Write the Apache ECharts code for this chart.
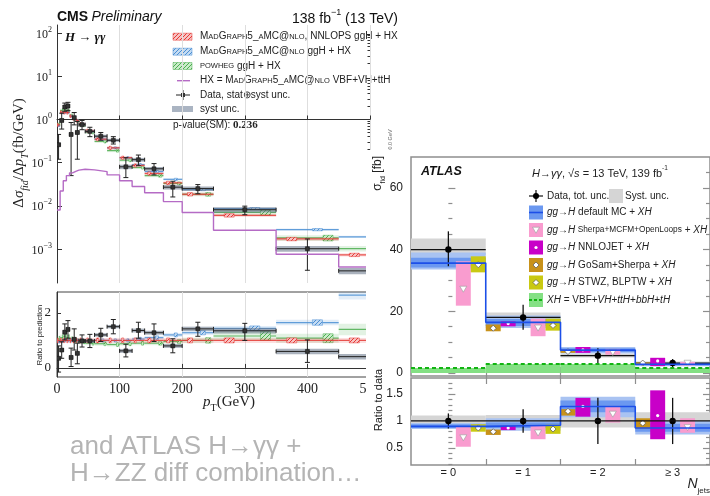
<!DOCTYPE html>
<html>
<head>
<meta charset="utf-8">
<title>Higgs differential cross sections</title>
<script src="https://cdn.jsdelivr.net/npm/echarts@6/dist/echarts.min.js"></script>
<style>
  html, body { margin: 0; padding: 0; background: #fff; }
  #cms { position: absolute; left: 0; top: 0; width: 710px; height: 496px; }
  #atlas { position: absolute; left: 366px; top: 150px; width: 344px; height: 346px; background: #fff; }
</style>
</head>
<body>
<div id="cms"></div>
<div id="atlas"></div>
<script>
// ===================== CMS: H -> gamma gamma, pT(H) =====================
const ptEdges = [0, 5, 10, 15, 20, 25, 30, 35, 45, 60, 80, 100, 120, 140, 170, 200, 250, 350, 450, 550];

// measured dsigma/dpT (fb/GeV) with total uncertainty and relative syst.
const dataXs   = [0.26, 0.95, 1.95, 2.05, 0.45, 1.10, 0.50, 0.76, 0.53, 0.41, 0.33, 0.080, 0.117, 0.072, 0.027, 0.025, 0.0081, 0.00101, 0.00031];
const dataLo   = [0.12, 0.60, 1.55, 1.60, 0.05, 0.75, 0.12, 0.58, 0.40, 0.33, 0.27, 0.045, 0.085, 0.052, 0.016, 0.019, 0.0062, 0.00032, 0.00012];
const dataHi   = [0.45, 1.40, 2.40, 2.50, 0.85, 1.45, 0.90, 0.95, 0.66, 0.50, 0.40, 0.130, 0.150, 0.095, 0.037, 0.031, 0.0098, 0.0017, 0.0005];
const dataSyst = [0.08, 0.08, 0.07, 0.07, 0.10, 0.08, 0.10, 0.08, 0.08, 0.08, 0.08, 0.12, 0.10, 0.10, 0.12, 0.12, 0.14, 0.15, 0.16];

// theory predictions (ggH + HX) and HX alone
const nnlopsXs = [0.75, 1.47, 1.45, 1.45, 1.20, 1.05, 0.95, 0.78, 0.55, 0.35, 0.22, 0.130, 0.086, 0.056, 0.034, 0.0185, 0.0060, 0.00170, 0.00073];
const mgXs     = [0.71, 1.43, 1.45, 1.45, 1.20, 1.05, 0.95, 0.78, 0.54, 0.35, 0.22, 0.130, 0.090, 0.062, 0.041, 0.0237, 0.0086, 0.0028, 0.0019];
const powhegXs = [0.79, 1.62, 1.67, 1.60, 1.26, 1.05, 0.93, 0.74, 0.50, 0.31, 0.19, 0.114, 0.077, 0.050, 0.033, 0.0185, 0.0070, 0.0018, 0.00102];
const hxXs     = [0.008, 0.022, 0.038, 0.050, 0.058, 0.063, 0.067, 0.070, 0.068, 0.062, 0.052, 0.038, 0.028, 0.020, 0.0125, 0.0070, 0.0027, 0.00075, 0.00038];
const nnlopsUnc = [0.09, 0.09, 0.09, 0.09, 0.09, 0.09, 0.09, 0.09, 0.09, 0.09, 0.09, 0.09, 0.09, 0.09, 0.09, 0.09, 0.09, 0.09, 0.09];
const mgUnc     = [0.06, 0.06, 0.06, 0.06, 0.06, 0.06, 0.06, 0.06, 0.06, 0.06, 0.06, 0.06, 0.06, 0.06, 0.06, 0.06, 0.06, 0.06, 0.06];
const powhegUnc = [0.10, 0.10, 0.10, 0.10, 0.08, 0.08, 0.08, 0.08, 0.08, 0.08, 0.08, 0.08, 0.08, 0.08, 0.08, 0.10, 0.14, 0.15, 0.15];

// ratio to the NNLOPS prediction
const ratioData = [0.35, 0.65, 1.30, 1.40, 0.38, 1.04, 0.53, 0.98, 0.98, 1.20, 1.50, 0.62, 1.36, 1.28, 0.80, 1.42, 1.35, 0.60, 0.41];
const ratioLo   = [-0.15, 0.35, 1.02, 1.08, 0.05, 0.65, 0.15, 0.76, 0.74, 0.96, 1.24, 0.40, 1.08, 0.96, 0.55, 1.15, 1.00, 0.20, 0.10];
const ratioHi   = [0.80, 0.95, 1.60, 1.72, 0.72, 1.42, 0.90, 1.20, 1.22, 1.44, 1.76, 0.86, 1.66, 1.60, 1.06, 1.66, 1.62, 1.02, 0.75];
const ratioSyst = [0.05, 0.05, 0.05, 0.05, 0.05, 0.05, 0.05, 0.06, 0.06, 0.06, 0.06, 0.07, 0.07, 0.07, 0.07, 0.08, 0.10, 0.10, 0.10];
const nnlopsRatio = [1, 1, 1, 1, 1, 1, 1, 1, 1, 1, 1, 1, 1, 1, 1, 1, 1, 1, 1];
const mgRatio     = [0.95, 0.97, 1.00, 1.00, 1.00, 1.00, 1.00, 1.00, 0.98, 1.00, 1.00, 1.00, 1.05, 1.10, 1.20, 1.28, 1.44, 1.65, 2.65];
const powhegRatio = [1.05, 1.10, 1.15, 1.10, 1.05, 1.00, 0.98, 0.95, 0.90, 0.88, 0.85, 0.88, 0.90, 0.90, 0.96, 1.00, 1.16, 1.08, 1.40];

const logTicks = [-3, -2, -1, 0, 1, 2];

// ===================== ATLAS: H -> gamma gamma, N_jets =====================
const njetLabels = ['= 0', '= 1', '= 2', '≥ 3'];
const atlasData   = [40.0, 18.0, 5.6, 3.2];
const atlasDataLo = [34.6, 14.0, 3.2, 1.9];
const atlasDataHi = [45.9, 22.1, 8.0, 4.5];
const atlasSystLo = [38.2, 16.4, 5.0, 2.7];
const atlasSystHi = [43.6, 19.6, 6.2, 3.7];
const defaultMc       = [35.6, 16.4, 7.4, 2.8];
const defaultMcLo     = [34.2, 15.2, 6.8, 2.4];
const defaultMcHi     = [37.3, 17.5, 8.0, 3.2];
const defaultMcLoWide = [33.5, 14.6, 6.3, 2.2];
const defaultMcHiWide = [39.0, 18.6, 8.4, 3.4];
const sherpaXs = [27.2, 14.6, 6.7, 3.2];
const sherpaLo = [21.8, 11.9, 5.9, 2.4];
const sherpaHi = [36.2, 17.6, 7.8, 3.6];
const nnlojetXs = [null, 16.0, 7.5, 3.9];
const nnlojetLo = [null, 15.1, 6.5, 2.2];
const nnlojetHi = [null, 16.7, 8.4, 4.9];
const gosamXs = [null, 14.5, 6.9, 3.2];
const gosamLo = [null, 13.5, 6.5, 2.7];
const gosamHi = [null, 15.7, 7.5, 3.4];
const stwzXs = [35.1, 15.4, null, null];
const stwzLo = [32.6, 13.7, null, null];
const stwzHi = [37.8, 17.6, null, null];
const xhXs = [1.6, 2.9, 2.9, 1.6];

// ratio to data
const atlasRatioLo = [0.86, 0.78, 0.57, 0.57];
const atlasRatioHi = [1.14, 1.22, 1.43, 1.43];
const atlasRatioSystLo = [0.89, 0.89, 0.88, 0.84];
const atlasRatioSystHi = [1.10, 1.11, 1.12, 1.16];
const defaultMcRatio       = [0.90, 0.92, 1.27, 0.87];
const defaultMcRatioLo     = [0.87, 0.87, 1.16, 0.80];
const defaultMcRatioHi     = [0.94, 0.97, 1.38, 0.95];
const defaultMcRatioLoWide = [0.85, 0.82, 1.07, 0.75];
const defaultMcRatioHiWide = [0.96, 1.05, 1.45, 1.00];
const sherpaRatio   = [0.69, 0.78, 1.13, 0.88];
const sherpaRatioLo = [0.52, 0.66, 0.97, 0.78];
const sherpaRatioHi = [0.89, 0.92, 1.28, 1.05];
const nnlojetRatio   = [null, 0.87, 1.27, 1.10];
const nnlojetRatioLo = [null, 0.83, 1.08, 0.66];
const nnlojetRatioHi = [null, 0.91, 1.43, 1.57];
const gosamRatio   = [null, 0.80, 1.18, 0.96];
const gosamRatioLo = [null, 0.74, 1.10, 0.86];
const gosamRatioHi = [null, 0.84, 1.22, 1.05];
const stwzRatio   = [0.87, 0.85, null, null];
const stwzRatioLo = [0.80, 0.76, null, null];
const stwzRatioHi = [0.94, 0.93, null, null];
const unitRatio = [1, 1, 1, 1];

// ---------------------------------------------------------------------
const SERIF = "'Liberation Serif', 'DejaVu Serif', serif";
const SANS = "'Liberation Sans', Arial, sans-serif";

function hatch(fg, bg) {
  const c = document.createElement('canvas');
  c.width = 4; c.height = 4;
  const g = c.getContext('2d');
  g.fillStyle = bg; g.fillRect(0, 0, 4, 4);
  g.strokeStyle = fg; g.lineWidth = 1;
  g.beginPath(); g.moveTo(-1, 5); g.lineTo(5, -1); g.stroke();
  g.beginPath(); g.moveTo(-1, 1); g.lineTo(1, -1); g.stroke();
  g.beginPath(); g.moveTo(3, 5); g.lineTo(5, 3); g.stroke();
  return { image: c, repeat: 'repeat' };
}
const RED = '#e53935', BLUE = '#4a8fd4', GREEN = '#4cae50', PURPLE = '#b56bc5';
const redHatch = hatch(RED, '#f7c2c2');
const blueHatch = hatch(BLUE, '#c4dbf2');
const greenHatch = hatch(GREEN, '#c9ecc9');

const lg = Math.log10;
function binItems(vals, extra) {
  return vals.map((v, i) => [ptEdges[i], ptEdges[i + 1], v].concat(extra.map(a => a[i])));
}

// prediction: band + central line across the bin, hatched box inside the bin
function predRender(logY, color, pattern, f0, f1) {
  const ty = logY ? lg : (v => v);
  return function (params, api) {
    const x0 = api.value(0), x1 = api.value(1), v = api.value(2), u = api.value(3);
    const a = api.coord([x0, ty(v * (1 + u))]);
    const b = api.coord([x1, ty(v * (1 - u))]);
    const c = api.coord([x0, ty(v)]), d = api.coord([x1, ty(v)]);
    const w = b[0] - a[0], h = b[1] - a[1];
    return {
      type: 'group', children: [
        { type: 'rect', shape: { x: a[0], y: a[1], width: w, height: h }, style: { fill: color, opacity: 0.16 } },
        { type: 'line', shape: { x1: c[0], y1: c[1], x2: d[0], y2: d[1] }, style: { stroke: color, lineWidth: 1.2, opacity: 0.85 } },
        { type: 'rect', shape: { x: a[0] + f0 * w, y: a[1], width: (f1 - f0) * w, height: h }, style: { fill: pattern, stroke: color, lineWidth: 0.5 } }
      ]
    };
  };
}

// data: syst box, bin-width bar and error bar
function dataRender(logY) {
  const ty = logY ? lg : (v => v);
  return function (params, api) {
    const x0 = api.value(0), x1 = api.value(1), v = api.value(2);
    const lo = api.value(3), hi = api.value(4), s = api.value(5);
    const xc = (x0 + x1) / 2;
    const sLo = logY ? v * (1 - s) : v - s, sHi = logY ? v * (1 + s) : v + s;
    const a = api.coord([x0, ty(sHi)]), b = api.coord([x1, ty(sLo)]);
    const l = api.coord([x0, ty(v)]), r = api.coord([x1, ty(v)]);
    const t = api.coord([xc, ty(hi)]), bt = api.coord([xc, ty(logY ? Math.max(lo, 1e-6) : lo)]);
    const k = '#222';
    return {
      type: 'group', children: [
        { type: 'rect', shape: { x: a[0], y: a[1], width: b[0] - a[0], height: b[1] - a[1] }, style: { fill: 'rgba(100,115,135,0.55)' } },
        { type: 'line', shape: { x1: l[0], y1: l[1], x2: r[0], y2: r[1] }, style: { stroke: k, lineWidth: 1 } },
        { type: 'line', shape: { x1: l[0], y1: l[1] - 2, x2: l[0], y2: l[1] + 2 }, style: { stroke: k, lineWidth: 1 } },
        { type: 'line', shape: { x1: r[0], y1: r[1] - 2, x2: r[0], y2: r[1] + 2 }, style: { stroke: k, lineWidth: 1 } },
        { type: 'line', shape: { x1: t[0], y1: t[1], x2: bt[0], y2: bt[1] }, style: { stroke: k, lineWidth: 1 } },
        { type: 'line', shape: { x1: t[0] - 2.5, y1: t[1], x2: t[0] + 2.5, y2: t[1] }, style: { stroke: k, lineWidth: 1 } },
        { type: 'line', shape: { x1: bt[0] - 2.5, y1: bt[1], x2: bt[0] + 2.5, y2: bt[1] }, style: { stroke: k, lineWidth: 1 } },
        { type: 'rect', shape: { x: l[0] + (r[0] - l[0]) / 2 - 2, y: l[1] - 2, width: 4, height: 4 }, style: { fill: '#333', stroke: '#111', lineWidth: 0.5 } }
      ]
    };
  };
}

const hxStep = ptEdges.slice(0, -1).map((e, i) => [e, lg(hxXs[i])]);
hxStep.push([ptEdges[ptEdges.length - 1], lg(hxXs[hxXs.length - 1])]);

const minorLog = [];
for (let n = -4; n <= 2; n++) for (let m = 2; m <= 9; m++) {
  const t = lg(m * Math.pow(10, n));
  if (t > -3.79 && t < 2.19) minorLog.push(t);
}

const cmsAxisCol = '#333';
const cmsX = (gi, labels) => ({
  gridIndex: gi, type: 'value', min: 0, max: 500, interval: 100,
  axisLine: { show: true, lineStyle: { color: cmsAxisCol } },
  axisTick: { show: true, inside: true, length: 4, lineStyle: { color: cmsAxisCol } },
  axisLabel: labels ? { show: true, fontFamily: SERIF, fontSize: 14, color: '#222', margin: 5 } : { show: false },
  splitLine: { show: true, lineStyle: { color: '#dedede', width: 1 } }
});

const cmsLegendTexts = [
  '{n|M}{c|AD}{n|G}{c|RAPH}{n|5_}{c|A}{n|MC@}{c|NLO}{n|, NNLOPS ggH + HX}',
  '{n|M}{c|AD}{n|G}{c|RAPH}{n|5_}{c|A}{n|MC@}{c|NLO}{n| ggH + HX}',
  '{c|POWHEG}{n| ggH + HX}',
  '{n|HX = M}{c|AD}{n|G}{c|RAPH}{n|5_}{c|A}{n|MC@}{c|NLO}{n| VBF+VH+ttH}',
  '{n|Data, stat⊕syst unc.}',
  '{n|syst unc.}',
  '{n|p-value(SM): }{m|0.236}'
];
const cmsRows = [36.7, 51.7, 66, 80.7, 95, 109, 125];
const cmsRich = {
  n: { fontFamily: SANS, fontSize: 10, fill: '#222' },
  c: { fontFamily: SANS, fontSize: 7.5, fill: '#222' },
  m: { fontFamily: SERIF, fontSize: 11, fontWeight: 'bold', fill: '#222' }
};

const cmsGraphic = [
  { type: 'text', x: 57, y: 17, style: { text: '{b|CMS} {i|Preliminary}', verticalAlign: 'middle',
      rich: { b: { fontFamily: SANS, fontSize: 14, fontWeight: 'bold', fill: '#111' }, i: { fontFamily: SANS, fontSize: 14, fontStyle: 'italic', fill: '#111' } } } },
  { type: 'text', x: 292, y: 17, style: { text: '{n|138 fb}{s|−1}{n| (13 TeV)}', verticalAlign: 'middle',
      rich: { n: { fontFamily: SANS, fontSize: 14, fill: '#111', lineHeight: 18, verticalAlign: 'bottom' }, s: { fontFamily: SANS, fontSize: 9, fill: '#111', lineHeight: 10, verticalAlign: 'top' } } } },
  { type: 'text', x: 65, y: 38, style: { text: 'H → γγ', fontFamily: SERIF, fontSize: 13, fontWeight: 'bold', fontStyle: 'italic', fill: '#111', verticalAlign: 'middle' } },
  { type: 'text', x: 21, y: 153, rotation: Math.PI / 2, style: {
      text: '{n|Δ}{i|σ}{s|fid}{n|/Δ}{i|p}{s|T}{n|(fb/GeV)}', align: 'center', verticalAlign: 'middle',
      rich: { n: { fontFamily: SERIF, fontSize: 15, fill: '#222', lineHeight: 18, verticalAlign: 'top' }, i: { fontFamily: SERIF, fontSize: 15, fontStyle: 'italic', fill: '#222', lineHeight: 18, verticalAlign: 'top' }, s: { fontFamily: SERIF, fontSize: 10, fontStyle: 'italic', fill: '#222', lineHeight: 18, verticalAlign: 'bottom' } } } },
  { type: 'text', x: 40, y: 335, rotation: Math.PI / 2, style: { text: 'Ratio to prediction', fontFamily: SANS, fontSize: 7.5, fill: '#222', align: 'center', verticalAlign: 'middle' } },
  { type: 'text', x: 229, y: 404, style: {
      text: '{i|p}{s|T}{n|(GeV)}', align: 'center', verticalAlign: 'middle',
      rich: { n: { fontFamily: SERIF, fontSize: 15, fill: '#222', lineHeight: 18, verticalAlign: 'top' }, i: { fontFamily: SERIF, fontSize: 15, fontStyle: 'italic', fill: '#222', lineHeight: 18, verticalAlign: 'top' }, s: { fontFamily: SERIF, fontSize: 10, fill: '#222', lineHeight: 18, verticalAlign: 'bottom' } } } },
  { type: 'text', x: 390, y: 141, rotation: Math.PI / 2, style: { text: '90.0 GeV', fontFamily: SANS, fontSize: 5.5, fill: '#666', align: 'center', verticalAlign: 'middle' } },
  { type: 'text', x: 70, y: 460, style: { text: 'and ATLAS H→γγ +', fontFamily: SANS, fontSize: 26, fill: '#b4b4b4', verticalAlign: 'bottom' } },
  { type: 'text', x: 70, y: 487, style: { text: 'H→ZZ diff combination…', fontFamily: SANS, fontSize: 26, fill: '#b4b4b4', verticalAlign: 'bottom' } }
];
// legend entries
cmsLegendTexts.forEach((t, i) => {
  cmsGraphic.push({ type: 'text', x: i === 6 ? 173 : 200, y: cmsRows[i], style: { text: t, rich: cmsRich, verticalAlign: 'middle' } });
});
[redHatch, blueHatch, greenHatch].forEach((p, i) => {
  cmsGraphic.push({ type: 'rect', shape: { x: 173, y: cmsRows[i] - 3.5, width: 19, height: 7 }, style: { fill: p, stroke: [RED, BLUE, GREEN][i], lineWidth: 0.5 } });
});
cmsGraphic.push({ type: 'line', shape: { x1: 177, y1: cmsRows[3], x2: 190, y2: cmsRows[3] }, style: { stroke: PURPLE, lineWidth: 1.4 } });
cmsGraphic.push({ type: 'line', shape: { x1: 176, y1: cmsRows[4], x2: 190, y2: cmsRows[4] }, style: { stroke: '#222', lineWidth: 1 } });
cmsGraphic.push({ type: 'line', shape: { x1: 183, y1: cmsRows[4] - 5, x2: 183, y2: cmsRows[4] + 5 }, style: { stroke: '#222', lineWidth: 1 } });
cmsGraphic.push({ type: 'rect', shape: { x: 181, y: cmsRows[4] - 2, width: 4, height: 4 }, style: { fill: '#333' } });
cmsGraphic.push({ type: 'rect', shape: { x: 172, y: cmsRows[5] - 3, width: 21, height: 6 }, style: { fill: '#aab4c2' } });

const cmsOption = {
  animation: false,
  grid: [
    { left: 57, top: 25, width: 313, height: 258 },
    { left: 57, top: 292, width: 313, height: 85, show: true, borderColor: '#444', borderWidth: 1 }
  ],
  xAxis: [cmsX(0, false), cmsX(1, true)],
  yAxis: [
    { gridIndex: 0, type: 'value', min: -3.79, max: 2.19,
      axisLine: { show: true, lineStyle: { color: cmsAxisCol } },
      axisTick: { show: true, inside: true, length: 5, customValues: logTicks, lineStyle: { color: cmsAxisCol } },
      axisLabel: { show: true, customValues: logTicks, margin: 5,
        formatter: v => '{b|10}{s|' + (v < 0 ? '−' + (-v) : v) + '}',
        rich: { b: { fontFamily: SERIF, fontSize: 12, color: '#222', lineHeight: 15, verticalAlign: 'bottom' },
                s: { fontFamily: SERIF, fontSize: 8, color: '#222', lineHeight: 9, verticalAlign: 'top' } } },
      splitLine: { show: false } },
    { gridIndex: 0, type: 'value', min: -3.79, max: 2.19,
      axisLine: { show: false }, axisLabel: { show: false }, splitLine: { show: false },
      axisTick: { show: true, inside: true, length: 2.5, customValues: minorLog, lineStyle: { color: cmsAxisCol } } },
    { gridIndex: 1, type: 'value', min: -0.33, max: 2.76,
      axisLine: { show: true, lineStyle: { color: cmsAxisCol } },
      axisTick: { show: true, inside: true, length: 4, customValues: [0, 1, 2], lineStyle: { color: cmsAxisCol } },
      axisLabel: { show: true, customValues: [0, 2], fontFamily: SERIF, fontSize: 13, color: '#222', margin: 6 },
      splitLine: { show: false } }
  ],
  series: [
    { type: 'line', xAxisIndex: 0, yAxisIndex: 0, step: 'end', data: hxStep, showSymbol: false, silent: true,
      lineStyle: { color: PURPLE, width: 1.4 } },
    { type: 'custom', xAxisIndex: 0, yAxisIndex: 0, clip: true, renderItem: predRender(true, GREEN, greenHatch, 0.75, 0.91), data: binItems(powhegXs, [powhegUnc]) },
    { type: 'custom', xAxisIndex: 0, yAxisIndex: 0, clip: true, renderItem: predRender(true, BLUE, blueHatch, 0.58, 0.74), data: binItems(mgXs, [mgUnc]) },
    { type: 'custom', xAxisIndex: 0, yAxisIndex: 0, clip: true, renderItem: predRender(true, RED, redHatch, 0.17, 0.33), data: binItems(nnlopsXs, [nnlopsUnc]) },
    { type: 'custom', xAxisIndex: 0, yAxisIndex: 0, clip: true, renderItem: dataRender(true), data: binItems(dataXs, [dataLo, dataHi, dataSyst]) },
    { type: 'custom', xAxisIndex: 1, yAxisIndex: 2, clip: true, renderItem: predRender(false, GREEN, greenHatch, 0.75, 0.91), data: binItems(powhegRatio, [powhegUnc]) },
    { type: 'custom', xAxisIndex: 1, yAxisIndex: 2, clip: true, renderItem: predRender(false, BLUE, blueHatch, 0.58, 0.74), data: binItems(mgRatio, [mgUnc]) },
    { type: 'custom', xAxisIndex: 1, yAxisIndex: 2, clip: true, renderItem: predRender(false, RED, redHatch, 0.17, 0.33), data: binItems(nnlopsRatio, [nnlopsUnc]) },
    { type: 'custom', xAxisIndex: 1, yAxisIndex: 2, clip: true, renderItem: dataRender(false), data: binItems(ratioData, [ratioLo, ratioHi, ratioSyst]) }
  ],
  graphic: cmsGraphic
};
echarts.init(document.getElementById('cms')).setOption(cmsOption);

// ===================== ATLAS panel =====================
const FRAME = '#8e8e8e';
const C_PINK = '#f99ccf', C_MAG = '#c800c8', C_BROWN = '#c8921a', C_YEL = '#c9c912';
const C_BLUE_L = '#a9c3f2', C_BLUE_D = '#6b98f0', C_BLUE = '#1c4fe8', C_GRAY = '#d5d5d5';
const C_GREEN = '#84e084', C_GREEN_D = '#12b412';

function items(...cols) {
  const out = [];
  cols[0].forEach((v, i) => { if (v !== null) out.push([i].concat(cols.map(c => c[i]))); });
  return out;
}
function bandB(color) {
  return function (params, api) {
    const i = api.value(0);
    const a = api.coord([i - 0.5, api.value(2)]), b = api.coord([i + 0.5, api.value(1)]);
    return { type: 'rect', shape: { x: a[0], y: a[1], width: b[0] - a[0], height: b[1] - a[1] }, style: { fill: color } };
  };
}
function hlineB(color, width, dash) {
  return function (params, api) {
    const i = api.value(0), v = api.value(1);
    const a = api.coord([i - 0.5, v]), b = api.coord([i + 0.5, v]);
    return { type: 'line', shape: { x1: a[0], y1: a[1], x2: b[0], y2: b[1] }, style: { stroke: color, lineWidth: width, lineDash: dash || null } };
  };
}
function markerShape(kind, cx, cy) {
  if (kind === 'tri') return { type: 'polygon', shape: { points: [[cx - 3.5, cy - 2.8], [cx + 3.5, cy - 2.8], [cx, cy + 3.2]] }, style: { fill: '#fff', stroke: '#999', lineWidth: 0.6 } };
  if (kind === 'diamond') return { type: 'polygon', shape: { points: [[cx, cy - 3], [cx + 3, cy], [cx, cy + 3], [cx - 3, cy]] }, style: { fill: '#fff', stroke: '#555', lineWidth: 0.7 } };
  return { type: 'circle', shape: { cx: cx, cy: cy, r: 1.6 }, style: { fill: '#fff' } };
}
function altRender(color, slot, kind) {
  return function (params, api) {
    const i = api.value(0), v = api.value(1);
    const xa = i - 0.5 + 0.2 * slot, xb = xa + 0.2;
    const a = api.coord([xa, api.value(3)]), b = api.coord([xb, api.value(2)]), c = api.coord([(xa + xb) / 2, v]);
    return { type: 'group', children: [
      { type: 'rect', shape: { x: a[0], y: a[1], width: b[0] - a[0], height: b[1] - a[1] }, style: { fill: color } },
      markerShape(kind, c[0], c[1])
    ] };
  };
}
function pointB(params, api) {
  const i = api.value(0);
  const c = api.coord([i, api.value(1)]), t = api.coord([i, api.value(3)]), b = api.coord([i, api.value(2)]);
  return { type: 'group', children: [
    { type: 'line', shape: { x1: c[0], y1: t[1], x2: c[0], y2: b[1] }, style: { stroke: '#111', lineWidth: 1.3 } },
    { type: 'circle', shape: { cx: c[0], cy: c[1], r: 3.2 }, style: { fill: '#000' } }
  ] };
}
function stepData(vals) {
  const d = vals.map((v, i) => [i - 0.5, v]);
  d.push([vals.length - 0.5, vals[vals.length - 1]]);
  return d;
}

const bx = (gi, pos, labels) => ({
  gridIndex: gi, type: 'value', min: -0.5, max: 3.5, position: pos,
  axisLine: { show: false },
  axisTick: { show: true, inside: true, length: 6, customValues: [0.5, 1.5, 2.5], lineStyle: { color: FRAME, width: 1.2 } },
  axisLabel: labels ? { show: true, customValues: [0, 1, 2, 3], formatter: v => njetLabels[Math.round(v)],
    fontFamily: SANS, fontSize: 11, color: '#222', margin: 2 } : { show: false },
  splitLine: { show: false }
});
const by = (gi, pos, min, max, ticks, len, labelVals) => ({
  gridIndex: gi, type: 'value', min: min, max: max, position: pos,
  axisLine: { show: false }, splitLine: { show: false },
  axisTick: { show: true, inside: true, length: len, customValues: ticks, lineStyle: { color: FRAME, width: 1.2 } },
  axisLabel: labelVals ? { show: true, customValues: labelVals, fontFamily: SANS, fontSize: 12, color: '#222', margin: 8,
    formatter: v => String(v) } : { show: false }
});
const mainMajor = [0, 20, 40, 60];
const mainMinor = [5, 10, 15, 25, 30, 35, 45, 50, 55, 65];
const ratMajor = [0.5, 1, 1.5];
const ratMinor = [0.2, 0.3, 0.4, 0.6, 0.7, 0.8, 0.9, 1.1, 1.2, 1.3, 1.4, 1.6, 1.7];

const M = { xAxisIndex: 0, yAxisIndex: 0 };
const R = { xAxisIndex: 2, yAxisIndex: 4 };

const atlasRows = [46, 62.5, 80, 97.5, 115, 132.5, 150];
const aRich = {
  n: { fontFamily: SANS, fontSize: 10, fill: '#222' },
  i: { fontFamily: SANS, fontSize: 10, fontStyle: 'italic', fill: '#222' },
  sm: { fontFamily: SANS, fontSize: 8.3, fill: '#222' },
  bi: { fontFamily: SANS, fontSize: 12.5, fontStyle: 'italic', fontWeight: 'bold', fill: '#111' },
  h: { fontFamily: SANS, fontSize: 11, fill: '#222', lineHeight: 15, verticalAlign: 'bottom' },
  hi: { fontFamily: SANS, fontSize: 11, fontStyle: 'italic', fill: '#222', lineHeight: 15, verticalAlign: 'bottom' },
  sup: { fontFamily: SANS, fontSize: 6.5, fill: '#222', lineHeight: 8, verticalAlign: 'top' },
  big: { fontFamily: SANS, fontSize: 14, fontStyle: 'italic', fill: '#222', lineHeight: 18, verticalAlign: 'top' },
  sub: { fontFamily: SANS, fontSize: 8, fill: '#222', lineHeight: 18, verticalAlign: 'bottom' }
};
const atlasLegendTexts = [
  '{n|Data, tot. unc.}',
  '{i|gg}{n|→}{i|H}{n| default MC + }{i|XH}',
  '{i|gg}{n|→}{i|H}{sm| Sherpa+MCFM+OpenLoops}{n| + }{i|XH}',
  '{i|gg}{n|→}{i|H}{n| NNLOJET + }{i|XH}',
  '{i|gg}{n|→}{i|H}{n| GoSam+Sherpa + }{i|XH}',
  '{i|gg}{n|→}{i|H}{n| STWZ, BLPTW + }{i|XH}',
  '{i|XH}{n| = VBF+}{i|VH}{n|+}{i|ttH}{n|+}{i|bbH}{n|+}{i|tH}'
];
const atlasGraphic = [
  { type: 'text', x: 55, y: 22, style: { text: '{bi|ATLAS}', rich: aRich, verticalAlign: 'middle' } },
  { type: 'text', x: 166, y: 22, style: { text: '{hi|H}{h|→}{hi|γγ}{h|, √}{hi|s}{h| = 13 TeV, 139 fb}{sup|-1}', rich: aRich, verticalAlign: 'middle' } },
  { type: 'text', x: 13, y: 6, rotation: Math.PI / 2, style: {
      text: '{a|σ}{b|fid}{a| [fb]}', align: 'right', verticalAlign: 'middle',
      rich: { a: { fontFamily: SANS, fontSize: 12, fill: '#222', lineHeight: 15, verticalAlign: 'top' }, b: { fontFamily: SANS, fontSize: 7, fill: '#222', lineHeight: 15, verticalAlign: 'bottom' } } } },
  { type: 'text', x: 13, y: 250, rotation: Math.PI / 2, style: { text: 'Ratio to data', fontFamily: SANS, fontSize: 11, fill: '#222', align: 'center', verticalAlign: 'middle' } },
  { type: 'text', x: 344, y: 336, style: { text: '{big|N}{sub|jets}', rich: aRich, align: 'right', verticalAlign: 'middle' } },
  { type: 'text', x: 259, y: atlasRows[0], style: { text: '{n|Syst. unc.}', rich: aRich, verticalAlign: 'middle' } }
];
atlasLegendTexts.forEach((t, i) => atlasGraphic.push({ type: 'text', x: 181, y: atlasRows[i], style: { text: t, rich: aRich, verticalAlign: 'middle' } }));
const legBox = (row, fill) => ({ type: 'rect', shape: { x: 163, y: atlasRows[row] - 7, width: 14, height: 14 }, style: { fill: fill } });
atlasGraphic.push(
  { type: 'line', shape: { x1: 163, y1: atlasRows[0], x2: 177, y2: atlasRows[0] }, style: { stroke: '#111', lineWidth: 1.2 } },
  { type: 'line', shape: { x1: 170, y1: atlasRows[0] - 6, x2: 170, y2: atlasRows[0] + 6 }, style: { stroke: '#111', lineWidth: 1.2 } },
  { type: 'circle', shape: { cx: 170, cy: atlasRows[0], r: 3 }, style: { fill: '#000' } },
  { type: 'rect', shape: { x: 243, y: atlasRows[0] - 7, width: 14, height: 14 }, style: { fill: C_GRAY } },
  legBox(1, C_BLUE_D),
  { type: 'line', shape: { x1: 163, y1: atlasRows[1], x2: 177, y2: atlasRows[1] }, style: { stroke: C_BLUE, lineWidth: 1.6 } },
  legBox(2, C_PINK), markerShape('tri', 170, atlasRows[2]),
  legBox(3, C_MAG), markerShape('dot', 170, atlasRows[3]),
  legBox(4, C_BROWN), markerShape('diamond', 170, atlasRows[4]),
  legBox(5, C_YEL), markerShape('diamond', 170, atlasRows[5]),
  legBox(6, C_GREEN),
  { type: 'line', shape: { x1: 163, y1: atlasRows[6], x2: 177, y2: atlasRows[6] }, style: { stroke: C_GREEN_D, lineWidth: 2, lineDash: [3, 2] } }
);

const atlasOption = {
  animation: false,
  grid: [
    { left: 45, top: 7, width: 299, height: 219, show: true, borderColor: FRAME, borderWidth: 1.5 },
    { left: 45, top: 228, width: 299, height: 87, show: true, borderColor: FRAME, borderWidth: 1.5 }
  ],
  xAxis: [bx(0, 'bottom', false), bx(0, 'top', false), bx(1, 'bottom', true), bx(1, 'top', false)],
  yAxis: [
    by(0, 'left', -1, 70, mainMajor, 7, mainMajor), by(0, 'left', -1, 70, mainMinor, 4, null),
    by(0, 'right', -1, 70, mainMajor, 7, null), by(0, 'right', -1, 70, mainMinor, 4, null),
    by(1, 'left', 0.18, 1.8, ratMajor, 7, ratMajor), by(1, 'left', 0.18, 1.8, ratMinor, 4, null),
    by(1, 'right', 0.18, 1.8, ratMajor, 7, null), by(1, 'right', 0.18, 1.8, ratMinor, 4, null)
  ],
  series: [
    // cross sections
    Object.assign({ type: 'custom', clip: true, renderItem: bandB(C_GREEN), data: items(xhXs.map(() => 0), xhXs) }, M),
    Object.assign({ type: 'custom', clip: true, renderItem: hlineB(C_GREEN_D, 2, [4, 3]), data: items(xhXs) }, M),
    Object.assign({ type: 'custom', clip: true, renderItem: bandB(C_GRAY), data: items(atlasSystLo, atlasSystHi) }, M),
    Object.assign({ type: 'custom', clip: true, renderItem: bandB(C_BLUE_L), data: items(defaultMcLoWide, defaultMcHiWide) }, M),
    Object.assign({ type: 'custom', clip: true, renderItem: bandB(C_BLUE_D), data: items(defaultMcLo, defaultMcHi) }, M),
    Object.assign({ type: 'line', step: 'end', showSymbol: false, silent: true, data: stepData(defaultMc), lineStyle: { color: C_BLUE, width: 1.6 } }, M),
    Object.assign({ type: 'custom', clip: true, renderItem: hlineB('#111', 1.2), data: items(atlasData) }, M),
    Object.assign({ type: 'custom', clip: true, renderItem: altRender(C_BROWN, 0, 'diamond'), data: items(gosamXs, gosamLo, gosamHi) }, M),
    Object.assign({ type: 'custom', clip: true, renderItem: altRender(C_MAG, 1, 'dot'), data: items(nnlojetXs, nnlojetLo, nnlojetHi) }, M),
    Object.assign({ type: 'custom', clip: true, renderItem: altRender(C_PINK, 3, 'tri'), data: items(sherpaXs, sherpaLo, sherpaHi) }, M),
    Object.assign({ type: 'custom', clip: true, renderItem: altRender(C_YEL, 4, 'diamond'), data: items(stwzXs, stwzLo, stwzHi) }, M),
    Object.assign({ type: 'custom', clip: true, renderItem: pointB, data: items(atlasData, atlasDataLo, atlasDataHi) }, M),
    // ratios to data
    Object.assign({ type: 'custom', clip: true, renderItem: bandB(C_GRAY), data: items(atlasRatioSystLo, atlasRatioSystHi) }, R),
    Object.assign({ type: 'custom', clip: true, renderItem: bandB(C_BLUE_L), data: items(defaultMcRatioLoWide, defaultMcRatioHiWide) }, R),
    Object.assign({ type: 'custom', clip: true, renderItem: bandB(C_BLUE_D), data: items(defaultMcRatioLo, defaultMcRatioHi) }, R),
    Object.assign({ type: 'line', step: 'end', showSymbol: false, silent: true, data: stepData(defaultMcRatio), lineStyle: { color: C_BLUE, width: 1.6 } }, R),
    Object.assign({ type: 'line', showSymbol: false, silent: true, data: stepData(unitRatio), lineStyle: { color: '#111', width: 1.3 } }, R),
    Object.assign({ type: 'custom', clip: true, renderItem: altRender(C_BROWN, 0, 'diamond'), data: items(gosamRatio, gosamRatioLo, gosamRatioHi) }, R),
    Object.assign({ type: 'custom', clip: true, renderItem: altRender(C_MAG, 1, 'dot'), data: items(nnlojetRatio, nnlojetRatioLo, nnlojetRatioHi) }, R),
    Object.assign({ type: 'custom', clip: true, renderItem: altRender(C_PINK, 3, 'tri'), data: items(sherpaRatio, sherpaRatioLo, sherpaRatioHi) }, R),
    Object.assign({ type: 'custom', clip: true, renderItem: altRender(C_YEL, 4, 'diamond'), data: items(stwzRatio, stwzRatioLo, stwzRatioHi) }, R),
    Object.assign({ type: 'custom', clip: true, renderItem: pointB, data: items(unitRatio, atlasRatioLo, atlasRatioHi) }, R)
  ],
  graphic: atlasGraphic
};
echarts.init(document.getElementById('atlas')).setOption(atlasOption);
</script>
</body>
</html>
